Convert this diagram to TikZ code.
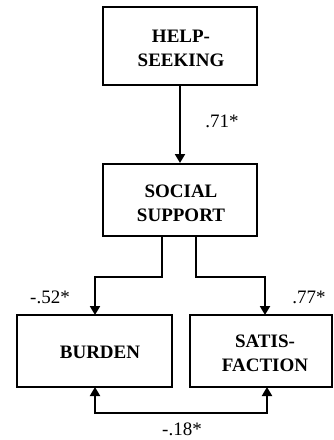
\documentclass[tikz,border=0pt]{standalone}
\usepackage{fontspec}
\setmainfont{Liberation Serif}
\usetikzlibrary{arrows.meta}
\begin{document}
\begin{tikzpicture}[x=1pt,y=-1pt,
  box/.style={draw,line width=2pt,inner sep=0pt},
  lbl/.style={font=\bfseries\fontsize{19}{24}\selectfont,align=center,inner sep=0pt},
  num/.style={font=\fontsize{19}{22}\selectfont,inner sep=0pt},
  tip/.style={Triangle[length=9pt,width=10pt]},
  conn/.style={line width=2pt,-{Triangle[length=9pt,width=10pt]}}]
\useasboundingbox (0,0) rectangle (334,440);
\node[box,minimum width=154pt,minimum height=78pt] (hs) at (180,46) {};
\node[lbl] at (181,48) {HELP-\\SEEKING};
\node[box,minimum width=154pt,minimum height=72pt] (ss) at (180,200) {};
\node[lbl] at (181,203) {SOCIAL\\SUPPORT};
\node[box,minimum width=155pt,minimum height=72pt] (bu) at (94.5,351) {};
\node[lbl] at (100,352) {BURDEN};
\node[box,minimum width=142pt,minimum height=72pt] (sa) at (261,351) {};
\node[lbl] at (265,353) {SATIS-\\FACTION};
\coordinate (bl) at (95,413);
\coordinate (br) at (267,413);
\draw[conn] (hs.south) -- (ss.north);
\draw[conn] (ss.south -| 162,0) |- (95,277) -- (95,315);
\draw[conn] (ss.south -| 196,0) |- (265,277) -- (265,315);
\draw[line width=2pt,{Triangle[length=9pt,width=10pt]}-{Triangle[length=9pt,width=10pt]}] (95,387) -- (bl) -- (br) -- (267,387);
\node[num] (n1) at (222,121) {.71*};
\node[num] (n2) at (50,297) {-.52*};
\node[num] (n3) at (309,297) {.77*};
\node[num] (n4) at (182,429) {-.18*};
\end{tikzpicture}
\end{document}
